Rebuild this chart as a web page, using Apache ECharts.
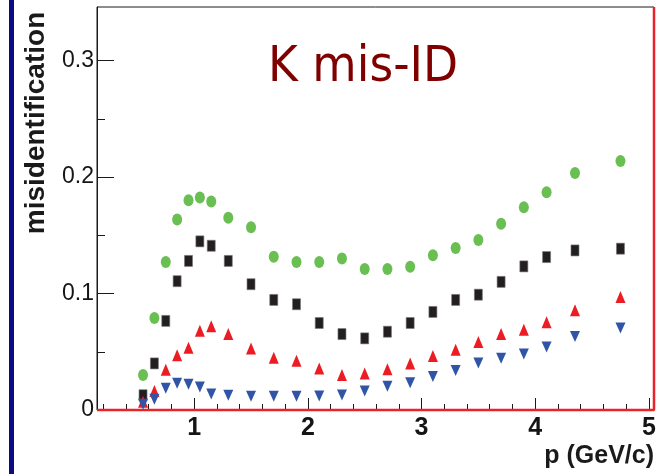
<!DOCTYPE html>
<html>
<head>
<meta charset="utf-8">
<script src="https://cdn.jsdelivr.net/npm/echarts@6/dist/echarts.min.js"></script>
<style>
  html, body { margin: 0; padding: 0; background: #fff; }
  #chart { width: 661px; height: 474px; }
</style>
</head>
<body>
<div id="chart"></div>
<script>
// momentum bins (GeV/c)
const pValues = [0.55, 0.65, 0.75, 0.85, 0.95, 1.05, 1.15, 1.3, 1.5, 1.7, 1.9, 2.1,
  2.3, 2.5, 2.7, 2.9, 3.1, 3.3, 3.5, 3.7, 3.9, 4.1, 4.35, 4.75];

// misidentification, one array per marker set
const greenCircles = [0.030, 0.079, 0.127, 0.1635, 0.180, 0.1825, 0.179, 0.165, 0.157, 0.1316, 0.127, 0.127,
  0.130, 0.121, 0.121, 0.123, 0.1328, 0.139, 0.146, 0.160, 0.174, 0.187, 0.2034, 0.2138];
const blackSquares = [0.0127, 0.040, 0.0765, 0.1106, 0.128, 0.1448, 0.141, 0.128, 0.108, 0.0945, 0.0908, 0.0747,
  0.0652, 0.0615, 0.0672, 0.0747, 0.0842, 0.0945, 0.099, 0.110, 0.1233, 0.1313, 0.137, 0.1385];
const redUp = [0.007, 0.0164, 0.0345, 0.047, 0.0534, 0.068, 0.0718, 0.0652, 0.0529, 0.0448, 0.0422, 0.0356,
  0.030, 0.0313, 0.035, 0.040, 0.0463, 0.0517, 0.0583, 0.0652, 0.069, 0.0753, 0.0856, 0.0971];
const blueDown = [0.005, 0.0092, 0.0187, 0.023, 0.0221, 0.0198, 0.0138, 0.0127, 0.0118, 0.0118, 0.0118, 0.012,
  0.0129, 0.0164, 0.0204, 0.0235, 0.0287, 0.0339, 0.0403, 0.0445, 0.048, 0.054, 0.063, 0.0704];

// red reference histogram outline (zero level, closing at the right edge)
const refLineX = [0.145, 5.045, 5.045];
const refLineY = [0, 0, 0.346];

// axis ticks
const xMin = 0.145, xMax = 5.045;
const yMin = 0, yMax = 0.346;
const xMajorTicks = [1, 2, 3, 4, 5];
const xMinorTicks = [0.2, 0.4, 0.6, 0.8, 1.2, 1.4, 1.6, 1.8, 2.2, 2.4, 2.6, 2.8,
  3.2, 3.4, 3.6, 3.8, 4.2, 4.4, 4.6, 4.8];
const yMajorTicks = [0, 0.1, 0.2, 0.3];
const yMinorTicks = [0.05, 0.15, 0.25];

const pairs = (xs, ys) => xs.map((x, i) => [x, ys[i]]);

const chart = echarts.init(document.getElementById("chart"));

const axisColor = "#1a1a1a";

chart.setOption({
  animation: false,
  backgroundColor: "#fff",
  grid: {
    left: 97,
    right: 7,
    top: 7,
    bottom: 64,
    show: true,
    borderColor: axisColor,
    borderWidth: 1,
  },
  xAxis: [
    {
      type: "value",
      min: xMin,
      max: xMax,
      position: "bottom",
      axisLine: { show: false },
      axisTick: { show: true, inside: true, length: 12, customValues: xMajorTicks, lineStyle: { color: axisColor } },
      axisLabel: {
        customValues: xMajorTicks,
        margin: 6,
        color: "#151515",
        fontFamily: "Liberation Sans",
        fontWeight: "bold",
        fontSize: 25,
      },
      splitLine: { show: false },
    },
    {
      type: "value",
      min: xMin,
      max: xMax,
      position: "bottom",
      offset: 0,
      axisLine: { show: false },
      axisTick: { show: true, inside: true, length: 6, customValues: xMinorTicks, lineStyle: { color: axisColor } },
      axisLabel: { show: false },
      splitLine: { show: false },
    },
  ],
  yAxis: [
    {
      type: "value",
      min: yMin,
      max: yMax,
      position: "left",
      axisLine: { show: true, onZero: false, lineStyle: { color: axisColor, width: 1 } },
      axisTick: { show: true, inside: true, length: 17, customValues: yMajorTicks, lineStyle: { color: axisColor } },
      axisLabel: {
        customValues: yMajorTicks,
        margin: 3,
        color: "#151515",
        fontFamily: "Liberation Sans",
        fontSize: 23,
        formatter: (v) => (v === 0 ? "0" : v.toFixed(1)),
      },
      splitLine: { show: false },
    },
    {
      type: "value",
      min: yMin,
      max: yMax,
      position: "left",
      offset: 0,
      axisLine: { show: false },
      axisTick: { show: true, inside: true, length: 8, customValues: yMinorTicks, lineStyle: { color: axisColor } },
      axisLabel: { show: false },
      splitLine: { show: false },
    },
  ],
  graphic: [
    // navy strip on the left edge
    { type: "rect", left: 9, top: 0, shape: { width: 5, height: 474 }, style: { fill: "#0b0b84" }, silent: true },
    {
      type: "text",
      x: 36,
      y: 123,
      rotation: Math.PI / 2,
      style: {
        text: "misidentification",
        fill: "#1a1a1a",
        font: "bold 28px 'Liberation Sans', Arial, sans-serif",
        textAlign: "center",
        textVerticalAlign: "middle",
      },
    },
    {
      type: "text",
      x: 654,
      y: 456,
      style: {
        text: "p (GeV/c)",
        fill: "#1a1a1a",
        font: "bold 25px 'Liberation Sans', Arial, sans-serif",
        textAlign: "right",
        textVerticalAlign: "middle",
      },
    },
    {
      type: "text",
      x: 268,
      y: 68,
      scaleX: 0.93,
      style: {
        text: "K mis-ID",
        fill: "#800000",
        font: "49px 'DejaVu Sans', sans-serif",
        textAlign: "left",
        textVerticalAlign: "middle",
      },
    },
  ],
  series: [
    {
      name: "reference",
      type: "line",
      data: pairs(refLineX, refLineY),
      showSymbol: false,
      symbol: "none",
      clip: false,
      silent: true,
      lineStyle: { color: "#e8232a", width: 2.5 },
      z: 5,
    },
    {
      name: "green",
      type: "scatter",
      data: pairs(pValues, greenCircles),
      symbol: "circle",
      symbolSize: [10, 12],
      itemStyle: { color: "#6abf52", opacity: 1 },
      z: 6,
    },
    {
      name: "black",
      type: "scatter",
      data: pairs(pValues, blackSquares),
      symbol: "rect",
      symbolSize: [8, 11],
      itemStyle: { color: "#231f20", borderColor: "#777", borderWidth: 0.6, opacity: 1 },
      z: 7,
    },
    {
      name: "red",
      type: "scatter",
      data: pairs(pValues, redUp),
      symbol: "triangle",
      symbolSize: [10, 12],
      itemStyle: { color: "#ec1c24", opacity: 1 },
      z: 8,
    },
    {
      name: "blue",
      type: "scatter",
      data: pairs(pValues, blueDown),
      symbol: "triangle",
      symbolRotate: 180,
      symbolSize: [10, 11],
      itemStyle: { color: "#3155a6", opacity: 1 },
      z: 9,
    },
  ],
});
</script>
</body>
</html>
